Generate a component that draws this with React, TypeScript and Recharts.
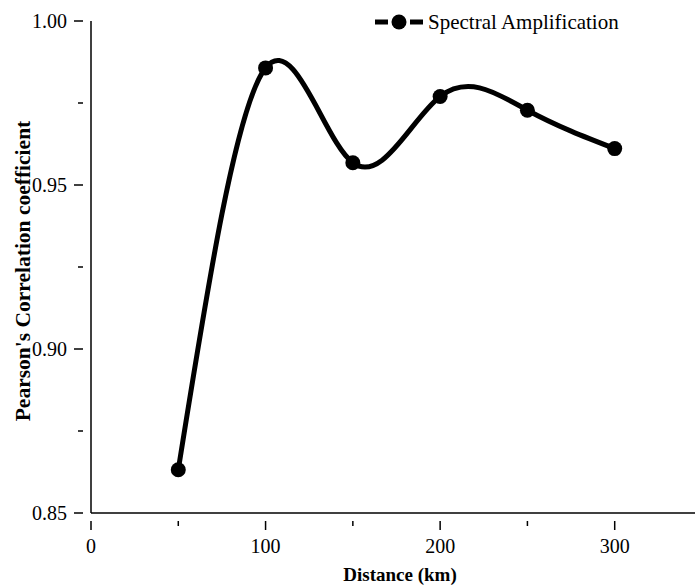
import { LineChart, Line, XAxis, YAxis, Label } from "recharts";

// Distance (km) vs Pearson's correlation (spectral amplification)
const distances = [50, 100, 150, 200, 250, 300];
const correlation = [0.8632, 0.9857, 0.9568, 0.977, 0.9728, 0.9611];

const xTicks = [0, 50, 100, 150, 200, 250, 300];
const xLabeled = [0, 100, 200, 300];
const yTicks = [0.85, 0.875, 0.9, 0.925, 0.95, 0.975, 1.0];
const yLabeled = [0.85, 0.9, 0.95, 1.0];

const SERIES_NAME = "Spectral Amplification";
const FONT = "'Liberation Serif', 'Times New Roman', serif";

const data = distances.map((d, i) => ({ x: d, v: correlation[i] }));

function XTick(props: any) {
  const { x, y, payload } = props;
  const major = xLabeled.includes(payload.value);
  return (
    <g>
      <line x1={x} x2={x} y1={y} y2={y + (major ? 9 : 5)} stroke="#000" strokeWidth={1.5} />
      {major && (
        <text x={x} y={y + 32} textAnchor="middle" fontSize={20} fontFamily={FONT} fill="#000">
          {payload.value}
        </text>
      )}
    </g>
  );
}

function YTick(props: any) {
  const { x, y, payload } = props;
  const major = yLabeled.some((t) => Math.abs(t - payload.value) < 1e-6);
  return (
    <g>
      <line x1={x} x2={x - (major ? 9 : 5)} y1={y} y2={y} stroke="#000" strokeWidth={1.5} />
      {major && (
        <text x={x - 16} y={y + 7} textAnchor="end" fontSize={20} fontFamily={FONT} fill="#000">
          {payload.value.toFixed(2)}
        </text>
      )}
    </g>
  );
}

export default function App() {
  return (
    <div style={{ position: "absolute", left: 0, top: 0, width: 695, height: 586, background: "#fff", fontFamily: FONT }}>
      <LineChart
        width={695}
        height={586}
        data={data}
        margin={{ top: 21, right: 0, bottom: 0, left: 0 }}
      >
        <XAxis
          type="number"
          dataKey="x"
          domain={[0, 346]}
          ticks={xTicks}
          interval={0}
          tickLine={false}
          tick={<XTick />}
          axisLine={{ stroke: "#000", strokeWidth: 1.5 }}
          height={73}
        >
          <Label
            value="Distance (km)"
            position="insideBottom"
            offset={5}
            dx={7}
            style={{ fontFamily: FONT, fontWeight: "bold", fontSize: 19, fill: "#000" }}
          />
        </XAxis>
        <YAxis
          type="number"
          domain={[0.85, 1.0]}
          ticks={yTicks}
          interval={0}
          tickLine={false}
          tick={<YTick />}
          axisLine={{ stroke: "#000", strokeWidth: 1.5 }}
          width={91}
        >
          <Label
            value="Pearson's Correlation coefficient"
            angle={-90}
            position="insideLeft"
            offset={22}
            dy={4}
            style={{ textAnchor: "middle", fontFamily: FONT, fontWeight: "bold", fontSize: 21.5, fill: "#000" }}
          />
        </YAxis>
        <Line
          type="natural"
          dataKey="v"
          name={SERIES_NAME}
          stroke="#000"
          strokeWidth={5}
          dot={{ r: 7.5, fill: "#000", stroke: "#000", strokeWidth: 0 }}
          activeDot={false}
          isAnimationActive={false}
        />
      </LineChart>
      <div style={{ position: "absolute", left: 374, top: 9, display: "flex", alignItems: "center", height: 26 }}>
        <svg width={50} height={26}>
          <line x1={1} x2={49} y1={13} y2={13} stroke="#000" strokeWidth={5} strokeDasharray="13 9 4 9 13" />
          <circle cx={25} cy={13} r={7.5} fill="#000" />
        </svg>
        <span style={{ fontSize: 21, marginLeft: 4, color: "#000", whiteSpace: "nowrap", lineHeight: "26px" }}>{SERIES_NAME}</span>
      </div>
    </div>
  );
}
